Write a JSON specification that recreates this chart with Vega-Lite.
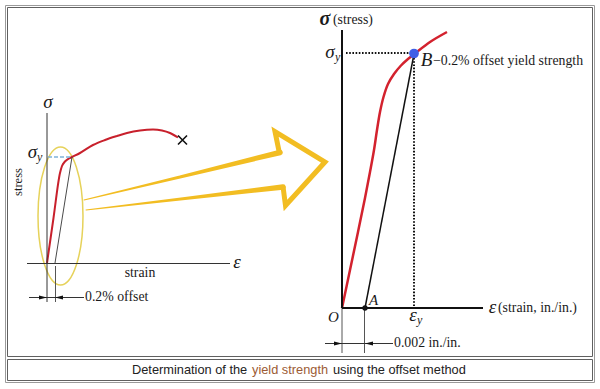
{
  "$schema": "https://vega.github.io/schema/vega-lite/v6.json",
  "width": 600,
  "height": 389,
  "padding": 0,
  "autosize": {"type": "fit", "contains": "padding"},
  "background": "white",
  "config": {"view": {"stroke": null}},
  "datasets": {
    "frames": [
      {"k": "outer", "x": 5.5, "y": 5.5, "x2": 594.5, "y2": 382.5},
      {"k": "inner", "x": 7.5, "y": 7.5, "x2": 592.5, "y2": 356.5},
      {"k": "inner", "x": 7.5, "y": 359.5, "x2": 592.5, "y2": 380.5}
    ],
    "curves": [
      {"s": "L", "i": 1, "x": 47, "y": 263},
      {"s": "L", "i": 2, "x": 53.5, "y": 218},
      {"s": "L", "i": 3, "x": 60, "y": 173},
      {"s": "L", "i": 4, "x": 62, "y": 166},
      {"s": "L", "i": 5, "x": 65, "y": 161.5},
      {"s": "L", "i": 6, "x": 69, "y": 158.5},
      {"s": "L", "i": 7, "x": 72, "y": 157},
      {"s": "L", "i": 8, "x": 80, "y": 153},
      {"s": "L", "i": 9, "x": 93, "y": 145},
      {"s": "L", "i": 10, "x": 105, "y": 140},
      {"s": "L", "i": 11, "x": 117, "y": 136},
      {"s": "L", "i": 12, "x": 127, "y": 133},
      {"s": "L", "i": 13, "x": 140, "y": 130.5},
      {"s": "L", "i": 14, "x": 153, "y": 129.5},
      {"s": "L", "i": 15, "x": 162, "y": 130.5},
      {"s": "L", "i": 16, "x": 170, "y": 133},
      {"s": "L", "i": 17, "x": 178, "y": 137.5},
      {"s": "R", "i": 1, "x": 342, "y": 308},
      {"s": "R", "i": 2, "x": 350, "y": 270},
      {"s": "R", "i": 3, "x": 358, "y": 232},
      {"s": "R", "i": 4, "x": 365, "y": 198},
      {"s": "R", "i": 5, "x": 370, "y": 172},
      {"s": "R", "i": 6, "x": 374, "y": 150},
      {"s": "R", "i": 7, "x": 377, "y": 130},
      {"s": "R", "i": 8, "x": 380, "y": 112},
      {"s": "R", "i": 9, "x": 383.5, "y": 97},
      {"s": "R", "i": 10, "x": 388, "y": 84},
      {"s": "R", "i": 11, "x": 394, "y": 74},
      {"s": "R", "i": 12, "x": 401, "y": 65.5},
      {"s": "R", "i": 13, "x": 408, "y": 59},
      {"s": "R", "i": 14, "x": 415, "y": 53.5},
      {"s": "R", "i": 15, "x": 430, "y": 42},
      {"s": "R", "i": 16, "x": 447, "y": 32}
    ],
    "segs": [
      {"k": "axisL", "x": 47, "y": 113, "x2": 47, "y2": 302},
      {"k": "axisL", "x": 27, "y": 263.5, "x2": 230, "y2": 263.5},
      {"k": "ext", "x": 55.5, "y": 266, "x2": 55.5, "y2": 302},
      {"k": "ext", "x": 342, "y": 308, "x2": 342, "y2": 353},
      {"k": "ext", "x": 364.5, "y": 308, "x2": 364.5, "y2": 353},
      {"k": "offL", "x": 55, "y": 263, "x2": 72, "y2": 157},
      {"k": "blue", "x": 48, "y": 157, "x2": 70, "y2": 157},
      {"k": "dim", "x": 29, "y": 297.5, "x2": 84, "y2": 297.5},
      {"k": "dim", "x": 325, "y": 343.5, "x2": 393, "y2": 343.5},
      {"k": "axisR", "x": 342, "y": 30, "x2": 342, "y2": 308},
      {"k": "axisR", "x": 342, "y": 308, "x2": 483, "y2": 308},
      {"k": "offR", "x": 365, "y": 308, "x2": 414, "y2": 54},
      {"k": "dot", "x": 346, "y": 53, "x2": 411, "y2": 53},
      {"k": "dot", "x": 414, "y": 58, "x2": 414, "y2": 307}
    ],
    "shafts": [
      {"s": "U", "i": 1, "x": 84, "y": 200, "w": 1},
      {"s": "U", "i": 2, "x": 180, "y": 177, "w": 3},
      {"s": "U", "i": 3, "x": 280, "y": 152.5, "w": 5.5},
      {"s": "D", "i": 1, "x": 86, "y": 210, "w": 1},
      {"s": "D", "i": 2, "x": 185, "y": 198.5, "w": 3},
      {"s": "D", "i": 3, "x": 283, "y": 187, "w": 5.5}
    ],
    "head": [
      {"i": 1, "x": 279.5, "y": 153.5},
      {"i": 2, "x": 275, "y": 131.5},
      {"i": 3, "x": 325, "y": 162},
      {"i": 4, "x": 285.5, "y": 205.5},
      {"i": 5, "x": 283, "y": 186.5}
    ],
    "points": [
      {"k": "ell", "x": 60.5, "y": 216},
      {"k": "X", "x": 182.5, "y": 140},
      {"k": "B", "x": 414, "y": 53.5},
      {"k": "A", "x": 365, "y": 308},
      {"k": "ar", "x": 43, "y": 297.5},
      {"k": "al", "x": 59, "y": 297.5},
      {"k": "ar", "x": 338, "y": 343.5},
      {"k": "al", "x": 369, "y": 343.5}
    ],
    "texts": [
      {"f": "gk", "t": "σ", "x": 48, "y": 108},
      {"f": "gk", "t": "σ", "x": 32.5, "y": 158},
      {"f": "gk", "t": "ε", "x": 237, "y": 268},
      {"f": "gk", "t": "σ", "x": 330, "y": 58},
      {"f": "gk", "t": "ε", "x": 413, "y": 321},
      {"f": "gk", "t": "ε", "x": 492.5, "y": 313},
      {"f": "gk", "t": "B", "x": 426.5, "y": 66},
      {"f": "gkb", "t": "σ", "x": 325, "y": 25},
      {"f": "sub", "t": "y", "x": 37, "y": 161},
      {"f": "sub", "t": "y", "x": 335, "y": 61},
      {"f": "sub", "t": "y", "x": 417, "y": 324},
      {"f": "ao", "t": "A", "x": 373.5, "y": 305},
      {"f": "ao", "t": "O", "x": 333.5, "y": 322},
      {"f": "rm", "t": "0.2% offset", "x": 85, "y": 301},
      {"f": "rm", "t": "(stress)", "x": 333, "y": 24},
      {"f": "rm", "t": "−0.2% offset yield strength", "x": 433, "y": 65},
      {"f": "rm", "t": "(strain, in./in.)", "x": 498, "y": 312},
      {"f": "rm", "t": "0.002 in./in.", "x": 394, "y": 347},
      {"f": "rmc", "t": "strain", "x": 140, "y": 277},
      {"f": "rot", "t": "stress", "x": 18, "y": 182},
      {"f": "cap", "t": "Determination of the", "x": 132, "y": 374},
      {"f": "cap", "t": "using the offset method", "x": 333, "y": 374},
      {"f": "capc", "t": "yield strength", "x": 252, "y": 374}
    ]
  },
  "encoding": {
    "x": {"field": "x", "type": "quantitative", "scale": {"domain": [0, 600], "nice": false, "zero": false}, "axis": null},
    "y": {"field": "y", "type": "quantitative", "scale": {"domain": [0, 389], "nice": false, "zero": false, "reverse": true}, "axis": null}
  },
  "layer": [
    {
      "data": {"name": "frames"},
      "transform": [{"filter": "datum.k === 'outer'"}],
      "mark": {"type": "rect", "filled": false, "stroke": "#9a9a9a", "strokeWidth": 1},
      "encoding": {"x2": {"field": "x2"}, "y2": {"field": "y2"}}
    },
    {
      "data": {"name": "frames"},
      "transform": [{"filter": "datum.k === 'inner'"}],
      "mark": {"type": "rect", "filled": false, "stroke": "#606060", "strokeWidth": 1},
      "encoding": {"x2": {"field": "x2"}, "y2": {"field": "y2"}}
    },
    {
      "data": {"name": "points"},
      "transform": [{"filter": "datum.k === 'ell'"}],
      "mark": {"type": "point", "filled": false, "stroke": "#e6d25a", "strokeWidth": 1.5, "opacity": 1, "size": 19044,
        "shape": "M0.326,0 C0.326,0.5523 0.18,1 0,1 C-0.18,1 -0.326,0.5523 -0.326,0 C-0.326,-0.5523 -0.18,-1 0,-1 C0.18,-1 0.326,-0.5523 0.326,0 Z"}
    },
    {
      "data": {"name": "shafts"},
      "mark": {"type": "trail", "color": "#f2bd22"},
      "encoding": {
        "detail": {"field": "s"},
        "order": {"field": "i"},
        "size": {"field": "w", "type": "quantitative", "scale": null}
      }
    },
    {
      "data": {"name": "head"},
      "mark": {"type": "line", "color": "#f2bd22", "strokeWidth": 5, "strokeJoin": "miter", "strokeCap": "butt"},
      "encoding": {"order": {"field": "i"}}
    },
    {
      "data": {"name": "curves"},
      "transform": [{"filter": "datum.s === 'L'"}],
      "mark": {"type": "line", "color": "#c8202c", "strokeWidth": 2, "interpolate": "monotone"},
      "encoding": {"order": {"field": "i"}}
    },
    {
      "data": {"name": "curves"},
      "transform": [{"filter": "datum.s === 'R'"}],
      "mark": {"type": "line", "color": "#d3222e", "strokeWidth": 2.5, "interpolate": "catmull-rom"},
      "encoding": {"order": {"field": "i"}}
    },
    {
      "data": {"name": "segs"},
      "transform": [{"filter": "datum.k === 'axisL'"}],
      "mark": {"type": "rule", "color": "#333333", "strokeWidth": 1},
      "encoding": {"x2": {"field": "x2"}, "y2": {"field": "y2"}}
    },
    {
      "data": {"name": "segs"},
      "transform": [{"filter": "datum.k === 'ext'"}],
      "mark": {"type": "rule", "color": "#555555", "strokeWidth": 1},
      "encoding": {"x2": {"field": "x2"}, "y2": {"field": "y2"}}
    },
    {
      "data": {"name": "segs"},
      "transform": [{"filter": "datum.k === 'offL'"}],
      "mark": {"type": "rule", "color": "#4a4a4a", "strokeWidth": 1},
      "encoding": {"x2": {"field": "x2"}, "y2": {"field": "y2"}}
    },
    {
      "data": {"name": "segs"},
      "transform": [{"filter": "datum.k === 'blue'"}],
      "mark": {"type": "rule", "color": "#7fb2d9", "strokeWidth": 1.5, "strokeDash": [4, 2]},
      "encoding": {"x2": {"field": "x2"}, "y2": {"field": "y2"}}
    },
    {
      "data": {"name": "segs"},
      "transform": [{"filter": "datum.k === 'dim'"}],
      "mark": {"type": "rule", "color": "#333333", "strokeWidth": 1},
      "encoding": {"x2": {"field": "x2"}, "y2": {"field": "y2"}}
    },
    {
      "data": {"name": "segs"},
      "transform": [{"filter": "datum.k === 'axisR'"}],
      "mark": {"type": "rule", "color": "#111111", "strokeWidth": 2},
      "encoding": {"x2": {"field": "x2"}, "y2": {"field": "y2"}}
    },
    {
      "data": {"name": "segs"},
      "transform": [{"filter": "datum.k === 'offR'"}],
      "mark": {"type": "rule", "color": "#111111", "strokeWidth": 1.5},
      "encoding": {"x2": {"field": "x2"}, "y2": {"field": "y2"}}
    },
    {
      "data": {"name": "segs"},
      "transform": [{"filter": "datum.k === 'dot'"}],
      "mark": {"type": "rule", "color": "#111111", "strokeWidth": 2, "strokeDash": [1.6, 1.6]},
      "encoding": {"x2": {"field": "x2"}, "y2": {"field": "y2"}}
    },
    {
      "data": {"name": "points"},
      "transform": [{"filter": "datum.k === 'X'"}],
      "mark": {"type": "point", "filled": false, "stroke": "#111111", "strokeWidth": 1.6, "opacity": 1, "size": 81, "shape": "M-1,-1L1,1M1,-1L-1,1"}
    },
    {
      "data": {"name": "points"},
      "transform": [{"filter": "datum.k === 'B'"}],
      "mark": {"type": "point", "filled": true, "color": "#3f5fe6", "opacity": 1, "size": 95, "shape": "circle"}
    },
    {
      "data": {"name": "points"},
      "transform": [{"filter": "datum.k === 'A'"}],
      "mark": {"type": "point", "filled": true, "color": "#111111", "opacity": 1, "size": 28, "shape": "circle"}
    },
    {
      "data": {"name": "points"},
      "transform": [{"filter": "datum.k === 'ar'"}],
      "mark": {"type": "point", "filled": true, "color": "#111111", "opacity": 1, "size": 64, "shape": "M1,0L-1,-0.5L-1,0.5Z"}
    },
    {
      "data": {"name": "points"},
      "transform": [{"filter": "datum.k === 'al'"}],
      "mark": {"type": "point", "filled": true, "color": "#111111", "opacity": 1, "size": 64, "shape": "M-1,0L1,-0.5L1,0.5Z"}
    },
    {
      "data": {"name": "texts"},
      "transform": [{"filter": "datum.f === 'gk'"}],
      "mark": {"type": "text", "font": "Liberation Serif", "fontStyle": "italic", "fontSize": 19, "align": "center", "baseline": "alphabetic", "color": "#1a1a1a"},
      "encoding": {"text": {"field": "t"}}
    },
    {
      "data": {"name": "texts"},
      "transform": [{"filter": "datum.f === 'gkb'"}],
      "mark": {"type": "text", "font": "Liberation Serif", "fontStyle": "italic", "fontWeight": "bold", "fontSize": 20, "align": "center", "baseline": "alphabetic", "color": "#1a1a1a"},
      "encoding": {"text": {"field": "t"}}
    },
    {
      "data": {"name": "texts"},
      "transform": [{"filter": "datum.f === 'sub'"}],
      "mark": {"type": "text", "font": "Liberation Serif", "fontStyle": "italic", "fontSize": 12, "align": "left", "baseline": "alphabetic", "color": "#1a1a1a"},
      "encoding": {"text": {"field": "t"}}
    },
    {
      "data": {"name": "texts"},
      "transform": [{"filter": "datum.f === 'ao'"}],
      "mark": {"type": "text", "font": "Liberation Serif", "fontStyle": "italic", "fontSize": 15, "align": "center", "baseline": "alphabetic", "color": "#1a1a1a"},
      "encoding": {"text": {"field": "t"}}
    },
    {
      "data": {"name": "texts"},
      "transform": [{"filter": "datum.f === 'rm'"}],
      "mark": {"type": "text", "font": "Liberation Serif", "fontSize": 13.8, "align": "left", "baseline": "alphabetic", "color": "#1a1a1a"},
      "encoding": {"text": {"field": "t"}}
    },
    {
      "data": {"name": "texts"},
      "transform": [{"filter": "datum.f === 'rmc'"}],
      "mark": {"type": "text", "font": "Liberation Serif", "fontSize": 13.8, "align": "center", "baseline": "alphabetic", "color": "#1a1a1a"},
      "encoding": {"text": {"field": "t"}}
    },
    {
      "data": {"name": "texts"},
      "transform": [{"filter": "datum.f === 'rot'"}],
      "mark": {"type": "text", "font": "Liberation Serif", "fontSize": 12.5, "align": "center", "baseline": "middle", "angle": 270, "color": "#1a1a1a"},
      "encoding": {"text": {"field": "t"}}
    },
    {
      "data": {"name": "texts"},
      "transform": [{"filter": "datum.f === 'cap'"}],
      "mark": {"type": "text", "font": "Liberation Sans", "fontSize": 12.8, "align": "left", "baseline": "alphabetic", "color": "#222222"},
      "encoding": {"text": {"field": "t"}}
    },
    {
      "data": {"name": "texts"},
      "transform": [{"filter": "datum.f === 'capc'"}],
      "mark": {"type": "text", "font": "Liberation Sans", "fontSize": 12.8, "align": "left", "baseline": "alphabetic", "color": "#9c5b35"},
      "encoding": {"text": {"field": "t"}}
    }
  ]
}
